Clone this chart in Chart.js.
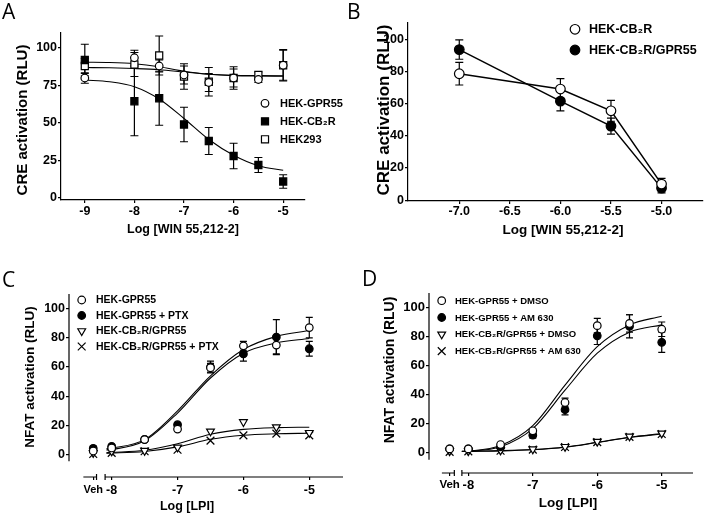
<!DOCTYPE html>
<html>
<head>
<meta charset="utf-8">
<script src="https://cdn.jsdelivr.net/npm/chart.js@4.4.1/dist/chart.umd.min.js"></script>
<style>
  html, body { margin: 0; background: #fff; }
  #fig { position: relative; width: 709px; height: 520px; overflow: hidden; background: #fff; }
  #fig canvas { position: absolute; left: 0; top: 0; }
  .tag { position: absolute; font: 21px "Open Sans", sans-serif; color: #000; line-height: 1; }
</style>
</head>
<body>
<div id="fig">
  <canvas id="chartA" width="709" height="520"></canvas>
  <canvas id="chartB" width="709" height="520"></canvas>
  <canvas id="chartC" width="709" height="520"></canvas>
  <canvas id="chartD" width="709" height="520"></canvas>
  <div class="tag" style="left:2px;top:1px">A</div>
  <div class="tag" style="left:347px;top:1px">B</div>
  <div class="tag" style="left:2px;top:269px">C</div>
  <div class="tag" style="left:362px;top:268px">D</div>
</div>
<script>
const FONT = '"Liberation Sans", Arial, sans-serif';

// Panel A - CRE activation vs WIN 55,212-2
const aDoses = [-9, -8, -7.5, -7, -6.5, -6, -5.5, -5];
const aGpr55 = [80, 93.5, 88, 82, 77, 80, 79, 88.5];
const aGpr55Err = [3.5, 5, 4, 6, 6, 6, 2, 10];
const aCb2r = [92, 64.5, 66.5, 49, 38, 28, 22, 11];
const aCb2rErr = [10.5, 23, 18, 11.5, 9, 8.5, 5, 4.5];
const aHek293 = [88, 89, 95, 81, 77.5, 80, 82, 88.5];
const aHek293Err = [5, 8, 13, 8.5, 9.5, 7.5, 2, 10.5];
const aFitX = [-9, -8.5, -8, -7.5, -7, -6.5, -6, -5.5, -5];
const aGpr55Fit = [87, 86.8, 86.3, 85.5, 84, 82.5, 81.6, 81.3, 81.2];
const aCb2rFit = [78.7, 77.5, 74.2, 66, 53, 39, 28.5, 21.5, 18.5];
const aHek293Fit = [90.5, 90.3, 89.5, 87.5, 84.5, 82.5, 81.8, 81.6, 81.5];
const aXTicks = [-9, -8, -7, -6, -5];
const aXLabels = ['-9', '-8', '-7', '-6', '-5'];
const aYTicks = [0, 25, 50, 75, 100];

// Panel B - CRE activation, two cell lines
const bDoses = [-7, -6, -5.5, -5];
const bCb2r = [78.5, 69, 55.5, 10];
const bCb2rErr = [7, 6.5, 6.5, 3.5];
const bCb2rGpr55 = [93.5, 61.5, 46, 7.5];
const bCb2rGpr55Err = [6, 6, 5, 3];
const bXTicks = [-7, -6.5, -6, -5.5, -5];
const bXLabels = ['-7.0', '-6.5', '-6.0', '-5.5', '-5.0'];
const bYTicks = [0, 20, 40, 60, 80, 100];

// Panel C - NFAT activation vs LPI (first dose = vehicle)
const cDoses = [-8.28, -8, -7.5, -7, -6.5, -6, -5.5, -5];
const cGpr55 = [2.5, 4.6, 10.3, 17.5, 59.5, 74.5, 75, 87];
const cGpr55Err = [1.5, 1, 1, 1, 3, 3, 6, 7];
const cGpr55Ptx = [4.3, 5.7, 10.5, 20.5, 60, 69, 80.5, 72.5];
const cGpr55PtxErr = [1.5, 1, 1, 1.5, 4, 5, 12, 5];
const cCb2rGpr55 = [1.2, 2.3, 2.7, 5, 16, 22.4, 18.9, 15];
const cCb2rGpr55Ptx = [0.5, 1.2, 2.3, 3.4, 9.6, 13.2, 14.4, 13.2];
const cFitX = [-8.08, -8, -7.5, -7, -6.5, -6, -5.5, -5];
const cGpr55Fit = [4, 4.5, 10.3, 30, 54, 72, 81, 85];
const cGpr55PtxFit = [3.2, 3.5, 9.5, 28.5, 52.5, 69.5, 76.5, 79.5];
const cCb2rGpr55Fit = [1.3, 1.5, 3, 7.5, 14, 17.3, 18.5, 18.8];
const cCb2rGpr55PtxFit = [1, 1.1, 2.2, 5.3, 10.5, 13.3, 14.3, 14.7];
const cXTicks = [-8.28, -8, -7, -6, -5];
const cXLabels = ['Veh', '-8', '-7', '-6', '-5'];
const cYTicks = [0, 20, 40, 60, 80, 100];

// Panel D - NFAT activation with DMSO / AM 630
const dDoses = [-8.29, -8, -7.5, -7, -6.5, -6, -5.5, -5];
const dGpr55Dmso = [2.5, 2.5, 5.5, 15, 34.5, 87.5, 89, 85];
const dGpr55DmsoErr = [1, 1, 1, 1.5, 3, 5, 6, 5];
const dGpr55Am630 = [2.5, 2.5, 4, 12, 29.5, 80.5, 87, 76];
const dGpr55Am630Err = [1, 1, 1, 2, 3.5, 6, 8, 7];
const dCb2rGpr55Dmso = [1, 1, 1.5, 2.3, 4, 7.5, 11.2, 13.2];
const dCb2rGpr55Am630 = [0.5, 0.8, 1.2, 2, 3.8, 7.2, 10.8, 12.8];
const dFitX = [-8.1, -8, -7.5, -7, -6.5, -6, -5.5, -5];
const dGpr55DmsoFit = [0.8, 1, 4.8, 18.5, 46.5, 73, 88, 94];
const dGpr55Am630Fit = [0.7, 0.9, 4, 16.5, 43, 68.5, 83, 88];
const dCb2rGpr55DmsoFit = [0.8, 0.9, 1.3, 2.1, 3.8, 7.1, 10.6, 13.1];
const dCb2rGpr55Am630Fit = [0.7, 0.8, 1.1, 1.9, 3.6, 6.9, 10.4, 12.8];
const dXTicks = [-8.29, -8, -7, -6, -5];
const dXLabels = ['Veh', '-8', '-7', '-6', '-5'];
const dYTicks = [0, 20, 40, 60, 80, 100];

const xy = (xs, ys) => xs.map((x, i) => ({ x: x, y: ys[i] }));

// marker looks
const MARK = {
  openCircle: { pointStyle: 'circle', pointRadius: 3.8, pointBackgroundColor: '#fff' },
  fillCircle: { pointStyle: 'circle', pointRadius: 3.8, pointBackgroundColor: '#000' },
  openSquare: { pointStyle: 'rect', pointRadius: 5, pointBackgroundColor: '#fff' },
  fillSquare: { pointStyle: 'rect', pointRadius: 5, pointBackgroundColor: '#000' },
  openTriDown: { pointStyle: 'triangle', pointRadius: 4.5, pointRotation: 180, pointBackgroundColor: '#fff' },
  cross: { pointStyle: 'crossRot', pointRadius: 5.5, pointBackgroundColor: '#000' }
};

function points(label, xs, ys, errs, mark, extra) {
  return Object.assign({
    label: label,
    data: xy(xs, ys),
    errors: errs,
    showLine: false,
    pointBorderColor: '#000',
    pointBorderWidth: 1.2,
    order: 0
  }, MARK[mark], extra || {});
}

function curve(xs, ys) {
  return {
    data: xy(xs, ys),
    showLine: true,
    pointRadius: 0,
    borderColor: '#000',
    borderWidth: 1.1,
    cubicInterpolationMode: 'monotone',
    order: 1
  };
}

// vertical error bars, drawn beneath markers
const errorBars = {
  id: 'errorBars',
  beforeDatasetsDraw(chart, args, opts) {
    const { ctx, scales: { x, y } } = chart;
    const cap = opts.cap || 4;
    ctx.save();
    ctx.strokeStyle = '#000';
    ctx.lineWidth = 1.2;
    chart.data.datasets.forEach(ds => {
      if (!ds.errors) return;
      ds.data.forEach((p, j) => {
        const e = ds.errors[j];
        if (!e) return;
        const px = x.getPixelForValue(p.x);
        const t = y.getPixelForValue(p.y + e);
        const b = y.getPixelForValue(p.y - e);
        ctx.beginPath();
        ctx.moveTo(px, t); ctx.lineTo(px, b);
        ctx.moveTo(px - cap, t); ctx.lineTo(px + cap, t);
        ctx.moveTo(px - cap, b); ctx.lineTo(px + cap, b);
        ctx.stroke();
      });
    });
    ctx.restore();
  }
};

function drawMarker(ctx, ds, x, y) {
  const o = {
    pointStyle: ds.pointStyle,
    radius: ds.pointRadius,
    rotation: ds.pointRotation || 0,
    borderWidth: ds.pointBorderWidth
  };
  ctx.fillStyle = ds.pointBackgroundColor;
  ctx.strokeStyle = '#000';
  ctx.lineWidth = ds.pointBorderWidth;
  Chart.helpers.drawPoint(ctx, o, x, y);
}

const markerLegend = {
  id: 'markerLegend',
  afterDraw(chart, args, opts) {
    const ctx = chart.ctx;
    ctx.save();
    ctx.textBaseline = 'middle';
    ctx.textAlign = 'left';
    opts.items.forEach((idx, k) => {
      const ds = chart.data.datasets[idx];
      const y = opts.y + k * opts.dy;
      drawMarker(ctx, ds, opts.x, y);
      ctx.fillStyle = '#000';
      ctx.font = 'bold ' + opts.size + 'px ' + FONT;
      ctx.fillText(ds.label, opts.textX, y + 0.5);
    });
    ctx.restore();
  }
};

const axisText = {
  id: 'axisText',
  afterDraw(chart, args, opts) {
    const ctx = chart.ctx;
    ctx.save();
    ctx.fillStyle = '#000';
    ctx.textAlign = 'center';
    ctx.textBaseline = 'middle';
    ctx.font = 'bold ' + opts.xSize + 'px ' + FONT;
    ctx.fillText(opts.xText, opts.xAt[0], opts.xAt[1]);
    ctx.translate(opts.yAt[0], opts.yAt[1]);
    ctx.rotate(-Math.PI / 2);
    ctx.font = 'bold ' + opts.ySize + 'px ' + FONT;
    ctx.fillText(opts.yText, 0, 0);
    ctx.restore();
  }
};

// GraphPad-style axes: short y axis and an x axis broken after "Veh"
const brokenAxis = {
  id: 'brokenAxis',
  afterDraw(chart, args, opts) {
    const { ctx, chartArea: a, scales: { x, y } } = chart;
    const by = a.bottom;
    const e1 = x.getPixelForValue(opts.vehTo);
    const s2 = x.getPixelForValue(opts.restFrom);
    ctx.save();
    ctx.strokeStyle = '#000';
    ctx.lineWidth = 1.2;
    ctx.beginPath();
    ctx.moveTo(a.left, a.top);
    ctx.lineTo(a.left, y.getPixelForValue(opts.yFrom));
    ctx.moveTo(x.getPixelForValue(opts.vehFrom), by); ctx.lineTo(e1, by);
    ctx.moveTo(s2, by); ctx.lineTo(a.right, by);
    ctx.moveTo(e1, by - 3); ctx.lineTo(e1, by + 3);
    ctx.moveTo(s2, by - 3); ctx.lineTo(s2, by + 3);
    ctx.stroke();
    ctx.restore();
  }
};

function axis(a, dir) {
  return {
    type: 'linear',
    min: a.min,
    max: a.max,
    afterFit: s => { if (dir === 'x') s.height = 30; else s.width = 40; },
    afterBuildTicks: s => { s.ticks = a.ticks.map(v => ({ value: v })); },
    border: { display: a.border !== false, color: '#000', width: 1.2 },
    grid: { drawOnChartArea: false, drawTicks: true, tickLength: 3, color: '#000', lineWidth: 1.2 },
    ticks: {
      autoSkip: false,
      maxRotation: 0,
      padding: a.pad,
      color: '#000',
      // the "Veh" label is set a little narrower, as in the figure
      font: c => ({ family: FONT, weight: 'bold',
                    size: (a.labels[c.index] === 'Veh') ? a.size - 1.5 : a.size }),
      callback: (v, i) => a.labels[i]
    }
  };
}

function panel(id, o) {
  return new Chart(document.getElementById(id), {
    type: 'scatter',
    data: { datasets: o.datasets },
    options: {
      responsive: false,
      animation: false,
      events: [],
      layout: { padding: o.padding },
      scales: { x: axis(o.x, 'x'), y: axis(o.y, 'y') },
      plugins: {
        legend: { display: false },
        tooltip: { enabled: false },
        errorBars: { cap: o.cap },
        markerLegend: o.legend,
        axisText: o.titles,
        brokenAxis: o.broken || false
      }
    },
    plugins: [errorBars, markerLegend, axisText, brokenAxis]
  });
}

panel('chartA', {
  padding: { left: 21, right: 404, top: 33, bottom: 290 },
  cap: 4,
  x: { min: -9.48, max: -4.56, ticks: aXTicks, labels: aXLabels, size: 12.5, pad: 1 },
  y: { min: -1.33, max: 110, ticks: aYTicks, labels: aYTicks.map(String), size: 12.5, pad: 1 },
  datasets: [
    points('HEK-GPR55', aDoses, aGpr55, aGpr55Err, 'openCircle'),
    points('HEK-CB\u2082R', aDoses, aCb2r, aCb2rErr, 'fillSquare'),
    points('HEK293', aDoses, aHek293, aHek293Err, 'openSquare'),
    curve(aFitX, aGpr55Fit),
    curve(aFitX, aCb2rFit),
    curve(aFitX, aHek293Fit)
  ],
  legend: { items: [0, 1, 2], x: 265, textX: 280, y: 103.3, dy: 18, size: 11 },
  titles: { xText: 'Log [WIN 55,212-2]', xAt: [183, 230], xSize: 12.5,
            yText: 'CRE activation (RLU)', yAt: [23, 120], ySize: 15 }
});

panel('chartB', {
  padding: { left: 368, right: 2, top: 23, bottom: 289 },
  cap: 4,
  x: { min: -7.507, max: -4.59, ticks: bXTicks, labels: bXLabels, size: 12.5, pad: 0 },
  y: { min: -0.5, max: 110, ticks: bYTicks, labels: bYTicks.map(String), size: 12.5, pad: 1 },
  datasets: [
    points('HEK-CB\u2082R', bDoses, bCb2r, bCb2rErr, 'openCircle',
      { showLine: true, borderColor: '#000', borderWidth: 1.5, tension: 0, pointRadius: 4.8 }),
    points('HEK-CB\u2082R/GPR55', bDoses, bCb2rGpr55, bCb2rGpr55Err, 'fillCircle',
      { showLine: true, borderColor: '#000', borderWidth: 1.5, tension: 0, pointRadius: 4.8 })
  ],
  legend: { items: [0, 1], x: 575, textX: 589, y: 29.3, dy: 20.7, size: 12.5 },
  titles: { xText: 'Log [WIN 55,212-2]', xAt: [563, 230], xSize: 13.5,
            yText: 'CRE activation (RLU)', yAt: [384, 110], ySize: 17 }
});

panel('chartC', {
  padding: { left: 29, right: 366, top: 294, bottom: 13 },
  cap: 3.5,
  x: { min: -8.648, max: -4.488, ticks: cXTicks, labels: cXLabels, size: 12.5, pad: 3, border: false },
  y: { min: -15.3, max: 110, ticks: cYTicks, labels: cYTicks.map(String), size: 12.5, pad: 1, border: false },
  datasets: [
    points('HEK-GPR55', cDoses, cGpr55, cGpr55Err, 'openCircle'),
    points('HEK-GPR55 + PTX', cDoses, cGpr55Ptx, cGpr55PtxErr, 'fillCircle'),
    points('HEK-CB\u2082R/GPR55', cDoses, cCb2rGpr55, null, 'openTriDown'),
    points('HEK-CB\u2082R/GPR55 + PTX', cDoses, cCb2rGpr55Ptx, null, 'cross'),
    curve(cFitX, cGpr55Fit),
    curve(cFitX, cGpr55PtxFit),
    curve(cFitX, cCb2rGpr55Fit),
    curve(cFitX, cCb2rGpr55PtxFit)
  ],
  legend: { items: [0, 1, 2, 3], x: 81.7, textX: 96, y: 300, dy: 15.5, size: 10.5 },
  titles: { xText: 'Log [LPI]', xAt: [187, 507], xSize: 12.5,
            yText: 'NFAT activation (RLU)', yAt: [30, 377], ySize: 13.5 },
  broken: { yFrom: -4.5, vehFrom: -8.43, vehTo: -8.23, restFrom: -8.1 }
});

panel('chartD', {
  padding: { left: 389, right: 16, top: 293, bottom: 17 },
  cap: 3.5,
  x: { min: -8.61, max: -4.515, ticks: dXTicks, labels: dXLabels, size: 13, pad: 2, border: false },
  y: { min: -14.1, max: 110, ticks: dYTicks, labels: dYTicks.map(String), size: 13, pad: 1, border: false },
  datasets: [
    points('HEK-GPR55 + DMSO', dDoses, dGpr55Dmso, dGpr55DmsoErr, 'openCircle'),
    points('HEK-GPR55 + AM 630', dDoses, dGpr55Am630, dGpr55Am630Err, 'fillCircle'),
    points('HEK-CB\u2082R/GPR55 + DMSO', dDoses, dCb2rGpr55Dmso, null, 'openTriDown'),
    points('HEK-CB\u2082R/GPR55 + AM 630', dDoses, dCb2rGpr55Am630, null, 'cross'),
    curve(dFitX, dGpr55DmsoFit),
    curve(dFitX, dGpr55Am630Fit),
    curve(dFitX, dCb2rGpr55DmsoFit),
    curve(dFitX, dCb2rGpr55Am630Fit)
  ],
  legend: { items: [0, 1, 2, 3], x: 441.7, textX: 455, y: 300.7, dy: 16.8, size: 9.5 },
  titles: { xText: 'Log [LPI]', xAt: [568, 503], xSize: 13.5,
            yText: 'NFAT activation (RLU)', yAt: [390, 370], ySize: 14 },
  broken: { yFrom: -5, vehFrom: -8.41, vehTo: -8.217, restFrom: -8.1 }
});
</script>
</body>
</html>
